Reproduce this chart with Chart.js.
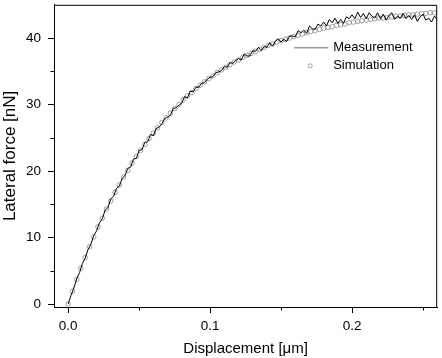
<!DOCTYPE html>
<html>
<head>
<meta charset="utf-8">
<script src="https://cdn.jsdelivr.net/npm/chart.js@4.4.1/dist/chart.umd.min.js"></script>
<style>
  html, body { margin: 0; padding: 0; background: #fff; }
  canvas { display: block; }
</style>
</head>
<body>
<canvas id="chart" width="442" height="358"></canvas>
<script>
// Datos: desplazamiento en µm, fuerza lateral en nN.
const measX = [
  0, 0.002, 0.004, 0.006, 0.008, 0.010, 0.012, 0.014, 0.016, 0.018,
  0.020, 0.022, 0.024, 0.026, 0.028, 0.030, 0.032, 0.034, 0.036, 0.038,
  0.040, 0.042, 0.044, 0.046, 0.048, 0.050, 0.052, 0.054, 0.056, 0.058,
  0.060, 0.062, 0.064, 0.066, 0.068, 0.070, 0.072, 0.074, 0.076, 0.078,
  0.080, 0.082, 0.084, 0.086, 0.088, 0.090, 0.092, 0.094, 0.096, 0.098,
  0.100, 0.102, 0.104, 0.106, 0.108, 0.110, 0.112, 0.114, 0.116, 0.118,
  0.120, 0.122, 0.124, 0.126, 0.128, 0.130, 0.132, 0.134, 0.136, 0.138,
  0.140, 0.142, 0.144, 0.146, 0.148, 0.150, 0.152, 0.154, 0.156, 0.158,
  0.160, 0.162, 0.164, 0.166, 0.168, 0.170, 0.172, 0.174, 0.176, 0.178,
  0.180, 0.182, 0.184, 0.186, 0.188, 0.190, 0.192, 0.194, 0.196, 0.198,
  0.200, 0.202, 0.204, 0.206, 0.208, 0.210, 0.212, 0.214, 0.216, 0.218,
  0.220, 0.222, 0.224, 0.226, 0.228, 0.230, 0.232, 0.234, 0.236, 0.238,
  0.240, 0.242, 0.244, 0.246, 0.248, 0.250, 0.252, 0.254, 0.256, 0.258,
  0.260
];
const measY = [
  0, 1.3, 2.4, 3.8, 4.7, 6.1, 6.9, 8.2, 9.0, 10.3,
  11.0, 12.2, 12.8, 14.1, 14.5, 15.8, 16.2, 17.4, 17.7, 18.9,
  19.3, 20.4, 20.6, 21.8, 21.9, 23.1, 23.2, 24.3, 24.4, 25.5,
  25.3, 26.4, 26.6, 27.1, 27.9, 28.1, 28.4, 29.4, 29.5, 29.9,
  30.2, 31.2, 31.0, 32.0, 31.9, 32.6, 32.6, 33.2, 33.3, 33.8,
  34.1, 34.2, 34.8, 34.9, 35.1, 35.7, 35.6, 36.3, 36.2, 36.6,
  36.9, 36.7, 37.6, 37.3, 37.3, 38.1, 38.0, 38.6, 38.1, 38.7,
  38.6, 39.3, 38.8, 39.5, 39.9, 39.4, 39.8, 39.5, 40.3, 40.3,
  40.2, 41.1, 40.8, 41.2, 40.7, 41.8, 41.4, 41.3, 42.1, 41.8,
  42.4, 41.8, 42.8, 42.3, 43.0, 42.2, 42.8, 42.2, 43.2, 42.9,
  43.5, 42.9, 43.9, 43.1, 43.7, 42.9, 43.8, 43.3, 43.0, 43.8,
  42.9, 43.6, 42.7, 43.4, 43.8, 42.8, 43.3, 43.0, 43.7, 42.9,
  43.4, 42.8, 43.5, 42.5, 43.2, 43.6, 42.7, 43.0, 42.4, 43.3,
  42.8
];
const simX = [
  0, 0.003, 0.006, 0.009, 0.012, 0.015, 0.018, 0.021, 0.024, 0.027,
  0.030, 0.033, 0.036, 0.039, 0.042, 0.045, 0.048, 0.051, 0.054, 0.057,
  0.060, 0.063, 0.066, 0.069, 0.072, 0.075, 0.078, 0.081, 0.084, 0.087,
  0.090, 0.093, 0.096, 0.099, 0.102, 0.105, 0.108, 0.111, 0.114, 0.117,
  0.120, 0.123, 0.126, 0.129, 0.132, 0.135, 0.138, 0.141, 0.144, 0.147,
  0.150, 0.153, 0.156, 0.159, 0.162, 0.165, 0.168, 0.171, 0.174, 0.177,
  0.180, 0.183, 0.186, 0.189, 0.192, 0.195, 0.198, 0.201, 0.204, 0.207,
  0.210, 0.213, 0.216, 0.219, 0.222, 0.225, 0.228, 0.231, 0.234, 0.237,
  0.240, 0.243, 0.246, 0.249, 0.252, 0.255, 0.258
];
const simY = [
  0, 1.9, 3.7, 5.4, 7.0, 8.6, 10.1, 11.6, 12.9, 14.3,
  15.5, 16.8, 17.9, 19.1, 20.1, 21.2, 22.2, 23.1, 24.0, 24.9,
  25.7, 26.5, 27.3, 28.0, 28.7, 29.4, 30.0, 30.7, 31.3, 31.8,
  32.4, 32.9, 33.4, 33.9, 34.3, 34.8, 35.2, 35.6, 36.0, 36.4,
  36.7, 37.1, 37.4, 37.7, 38.0, 38.3, 38.6, 38.9, 39.1, 39.4,
  39.6, 39.8, 40.0, 40.2, 40.4, 40.6, 40.8, 41.0, 41.1, 41.3,
  41.5, 41.6, 41.7, 41.9, 42.0, 42.1, 42.3, 42.4, 42.5, 42.6,
  42.7, 42.8, 42.9, 43.0, 43.0, 43.1, 43.2, 43.3, 43.3, 43.4,
  43.5, 43.5, 43.6, 43.7, 43.7, 43.8, 43.8
];

const xTicks = [0, 0.1, 0.2];
const xMinorTicks = [0.05, 0.15, 0.25];
const yTicks = [0, 10, 20, 30, 40];
const yMinorTicks = [5, 15, 25, 35];
const seriesNames = ['Measurement', 'Simulation'];

const FONT = "'Liberation Sans', Arial, sans-serif";

// Ejes a medida: sin márgenes extra que desplacen el área del gráfico.
function fixedSize(prop, size) {
  return function (s) {
    s[prop] = size;
    s.paddingTop = 0;
    s.paddingBottom = 0;
    s.paddingLeft = 0;
    s.paddingRight = 0;
  };
}

// Marco completo (arriba y derecha) y ticks menores hacia fuera.
const framePlugin = {
  id: 'frame',
  afterDraw: function (chart) {
    const ctx = chart.ctx;
    const a = chart.chartArea;
    const sx = chart.scales.x;
    const sy = chart.scales.y;
    ctx.save();
    ctx.strokeStyle = '#000';
    ctx.lineWidth = 1;
    ctx.beginPath();
    ctx.moveTo(a.left, a.top + 0.5);
    ctx.lineTo(a.right - 0.5, a.top + 0.5);
    ctx.lineTo(a.right - 0.5, a.bottom);
    ctx.stroke();
    ctx.beginPath();
    xMinorTicks.forEach(function (v) {
      const px = Math.round(sx.getPixelForValue(v)) + 0.5;
      ctx.moveTo(px, a.bottom);
      ctx.lineTo(px, a.bottom + 3.5);
    });
    yMinorTicks.forEach(function (v) {
      const py = Math.round(sy.getPixelForValue(v)) + 0.5;
      ctx.moveTo(a.left, py);
      ctx.lineTo(a.left - 3.5, py);
    });
    ctx.stroke();
    ctx.restore();
  },
};

// Leyenda dentro del área del gráfico, arriba a la derecha.
const legendPlugin = {
  id: 'insideLegend',
  afterDraw: function (chart) {
    const ctx = chart.ctx;
    const a = chart.chartArea;
    const x0 = a.right - 143;
    const y0 = a.top + 43;
    ctx.save();
    ctx.strokeStyle = '#999';
    ctx.lineWidth = 1.5;
    ctx.beginPath();
    ctx.moveTo(x0, y0);
    ctx.lineTo(x0 + 34, y0);
    ctx.stroke();
    ctx.beginPath();
    ctx.arc(x0 + 16, y0 + 18, 2, 0, Math.PI * 2);
    ctx.lineWidth = 0.8;
    ctx.strokeStyle = '#888';
    ctx.stroke();
    ctx.fillStyle = '#000';
    ctx.font = '13px ' + FONT;
    ctx.textBaseline = 'middle';
    ctx.fillText(seriesNames[0], x0 + 39, y0);
    ctx.fillText(seriesNames[1], x0 + 39, y0 + 18);
    ctx.restore();
  },
};

new Chart(document.getElementById('chart'), {
  type: 'scatter',
  data: {
    datasets: [
      {
        label: seriesNames[0],
        data: measX.map(function (x, i) { return { x: x, y: measY[i] }; }),
        showLine: true,
        borderColor: '#000',
        borderWidth: 1,
        pointRadius: 0,
        tension: 0,
        order: 0,
      },
      {
        label: seriesNames[1],
        data: simX.map(function (x, i) { return { x: x, y: simY[i] }; }),
        showLine: false,
        pointStyle: 'circle',
        pointRadius: 2.3,
        borderColor: '#8a8a8a',
        borderWidth: 0.8,
        backgroundColor: 'rgba(255,255,255,0)',
        order: 1,
      },
    ],
  },
  options: {
    responsive: false,
    animation: false,
    devicePixelRatio: 1,
    layout: { padding: { top: 3, right: 3, left: 0, bottom: 0 } },
    plugins: {
      legend: { display: false },
      tooltip: { enabled: false },
    },
    scales: {
      x: {
        type: 'linear',
        min: -0.01,
        max: 0.26,
        afterBuildTicks: function (s) {
          s.ticks = xTicks.map(function (v) { return { value: v }; });
        },
        afterFit: fixedSize('height', 51),
        grid: { drawOnChartArea: false, tickLength: 6, color: '#000' },
        border: { color: '#000', width: 1 },
        ticks: {
          color: '#000',
          padding: 5,
          maxRotation: 0,
          font: { family: FONT, size: 13.5 },
          callback: function (v) { return Number(v).toFixed(1); },
        },
        title: {
          display: true,
          text: 'Displacement [\u03bcm]',
          color: '#000',
          font: { family: FONT, size: 15 },
          padding: { top: 0, bottom: 0 },
        },
      },
      y: {
        type: 'linear',
        min: -0.45,
        max: 45,
        afterBuildTicks: function (s) {
          s.ticks = yTicks.map(function (v) { return { value: v }; });
        },
        afterFit: fixedSize('width', 54),
        grid: { drawOnChartArea: false, tickLength: 6, color: '#000' },
        border: { color: '#000', width: 1 },
        ticks: {
          color: '#000',
          padding: 7,
          font: { family: FONT, size: 13.5 },
        },
        title: {
          display: true,
          text: 'Lateral force [nN]',
          color: '#000',
          font: { family: FONT, size: 17 },
          padding: { top: 0, bottom: 0 },
        },
      },
    },
  },
  plugins: [framePlugin, legendPlugin],
});
</script>
</body>
</html>
